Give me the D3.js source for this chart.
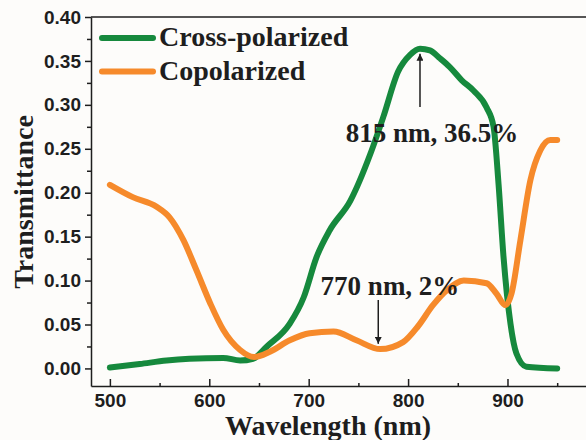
<!DOCTYPE html>
<html><head><meta charset="utf-8">
<script src="https://cdn.jsdelivr.net/npm/d3@7"></script>
<style>
html,body{margin:0;padding:0;background:#fdfcfa;}
svg{display:block;}
</style></head>
<body>
<svg id="chart" width="586" height="440"></svg>
<script>
const crossWl = [500, 530, 557, 580, 614, 631, 644, 658, 681, 695, 708, 721, 742, 762, 775, 790, 802, 812, 822, 832, 842, 854, 866, 879, 886, 891, 896, 903, 909, 919, 950];
const crossVals = [0.001, 0.005, 0.009, 0.011, 0.012, 0.009, 0.011, 0.025, 0.051, 0.081, 0.127, 0.157, 0.191, 0.244, 0.286, 0.338, 0.357, 0.364, 0.362, 0.353, 0.343, 0.328, 0.316, 0.297, 0.275, 0.210, 0.127, 0.051, 0.017, 0.002, 0.000];
const coWl = [500, 523, 547, 560, 574, 587, 601, 614, 631, 645, 661, 681, 701, 725, 748, 772, 795, 810, 825, 840, 856, 879, 889, 898, 904, 913, 923, 933, 943, 950];
const coVals = [0.209, 0.195, 0.184, 0.172, 0.146, 0.112, 0.074, 0.044, 0.021, 0.013, 0.019, 0.032, 0.040, 0.042, 0.032, 0.022, 0.030, 0.048, 0.072, 0.090, 0.100, 0.097, 0.085, 0.072, 0.085, 0.146, 0.214, 0.248, 0.260, 0.260];
const seriesNames = ["Cross-polarized", "Copolarized"];
const xTicks = [500, 600, 700, 800, 900];
const yTicks = [0.00, 0.05, 0.10, 0.15, 0.20, 0.25, 0.30, 0.35, 0.40];
const annotations = [
  {label: "815 nm, 36.5%", wl: 815, val: 0.365},
  {label: "770 nm, 2%", wl: 770, val: 0.02}
];

const green = "#16893d", orange = "#f68a2b", ink = "#1e1e1e";
const svg = d3.select("#chart");
const L = 91, T = 17, B = 386, R = 588;
const x = d3.scaleLinear().domain([481, 981]).range([L, R]);
const y = d3.scaleLinear().domain([-0.02, 0.40]).range([B, T]);

// frame top
svg.append("line").attr("x1", L).attr("x2", 586).attr("y1", T).attr("y2", T)
  .attr("stroke", ink).attr("stroke-width", 1.5);

// y axis
const yMinor = d3.range(0.025, 0.40, 0.05);
const ya = svg.append("g").attr("transform", `translate(${L},0)`)
  .call(d3.axisLeft(y).tickValues(yTicks).tickFormat(d3.format(".2f")).tickSize(6).tickSizeOuter(0));
ya.select(".domain").attr("stroke", ink).attr("stroke-width", 1.5);
ya.selectAll(".tick line").attr("stroke", ink).attr("stroke-width", 1.5);
ya.selectAll(".tick text").attr("fill", ink).attr("font-family", "Liberation Sans, Arial, sans-serif")
  .attr("font-weight", "bold").attr("font-size", 19).attr("dx", -1);
svg.append("g").attr("transform", `translate(${L},0)`).call(d3.axisLeft(y).tickValues(yMinor).tickFormat("").tickSize(4).tickSizeOuter(0))
  .call(g => g.select(".domain").remove())
  .selectAll(".tick line").attr("stroke", ink).attr("stroke-width", 1.5);

// x axis
const xMinor = [550, 650, 750, 850, 950];
const xa = svg.append("g").attr("transform", `translate(0,${B})`)
  .call(d3.axisBottom(x).tickValues(xTicks).tickSize(-7).tickSizeOuter(0).tickPadding(8));
xa.select(".domain").attr("stroke", ink).attr("stroke-width", 1.5);
xa.selectAll(".tick line").attr("stroke", ink).attr("stroke-width", 1.5);
xa.selectAll(".tick text").attr("fill", ink).attr("font-family", "Liberation Sans, Arial, sans-serif")
  .attr("font-weight", "bold").attr("font-size", 19);
svg.append("g").attr("transform", `translate(0,${B})`).call(d3.axisBottom(x).tickValues(xMinor).tickFormat("").tickSize(-3).tickSizeOuter(0))
  .call(g => g.select(".domain").remove())
  .selectAll(".tick line").attr("stroke", ink).attr("stroke-width", 1.5);

// titles
const serif = "Liberation Serif, Times New Roman, serif";
svg.append("text").attr("x", 328).attr("y", 435).attr("text-anchor", "middle")
  .attr("font-family", serif).attr("font-weight", "bold").attr("font-size", 28).attr("fill", ink)
  .text("Wavelength (nm)");
svg.append("text").attr("transform", "translate(33,202) rotate(-90)").attr("text-anchor", "middle")
  .attr("font-family", serif).attr("font-weight", "bold").attr("font-size", 28).attr("fill", ink)
  .text("Transmittance");

// lines
const line = d3.line().x(d => x(d[0])).y(d => y(d[1])).curve(d3.curveMonotoneX);
svg.append("path").datum(crossWl.map((w, i) => [w, crossVals[i]]))
  .attr("d", line).attr("fill", "none").attr("stroke", green).attr("stroke-width", 6)
  .attr("stroke-linecap", "round").attr("stroke-linejoin", "round");
svg.append("path").datum(coWl.map((w, i) => [w, coVals[i]]))
  .attr("d", line).attr("fill", "none").attr("stroke", orange).attr("stroke-width", 6)
  .attr("stroke-linecap", "round").attr("stroke-linejoin", "round");

// legend
const legColors = [green, orange];
seriesNames.forEach((n, i) => {
  const ly = 38 + i * 33.5;
  svg.append("line").attr("x1", 102).attr("x2", 153).attr("y1", ly).attr("y2", ly)
    .attr("stroke", legColors[i]).attr("stroke-width", 6).attr("stroke-linecap", "round");
  svg.append("text").attr("x", 159).attr("y", ly + 8).attr("font-family", serif)
    .attr("font-weight", "bold").attr("font-size", 28).attr("fill", ink).text(n);
});

// annotations
const defs = svg.append("defs");
defs.append("marker").attr("id", "ah").attr("viewBox", "0 0 10 10").attr("refX", 10).attr("refY", 5)
  .attr("markerWidth", 7).attr("markerHeight", 7).attr("markerUnits", "userSpaceOnUse").attr("orient", "auto")
  .append("path").attr("d", "M0,0 L10,5 L0,10 Z").attr("fill", ink);
const a0 = annotations[0];
svg.append("line").attr("x1", x(a0.wl) - 3).attr("x2", x(a0.wl) - 3).attr("y1", 107).attr("y2", y(a0.val) + 6)
  .attr("stroke", ink).attr("stroke-width", 1.5).attr("marker-end", "url(#ah)");
svg.append("text").attr("x", 432).attr("y", 142).attr("text-anchor", "middle").attr("font-family", serif)
  .attr("font-weight", "bold").attr("font-size", 27).attr("fill", ink).text(a0.label);
const a1 = annotations[1];
svg.append("line").attr("x1", x(a1.wl)).attr("x2", x(a1.wl)).attr("y1", 300).attr("y2", y(a1.val) - 7)
  .attr("stroke", ink).attr("stroke-width", 1.5).attr("marker-end", "url(#ah)");
svg.append("text").attr("x", 390).attr("y", 295).attr("text-anchor", "middle").attr("font-family", serif)
  .attr("font-weight", "bold").attr("font-size", 27).attr("fill", ink).text(a1.label);
</script>
</body></html>
